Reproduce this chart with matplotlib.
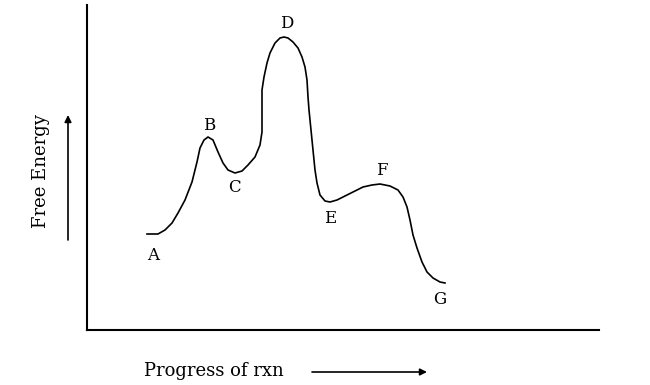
import matplotlib
matplotlib.use("Agg")
import matplotlib.pyplot as plt

# reaction coordinate curve (arbitrary units)
progress = [60, 71, 78, 85, 91, 98, 105, 110, 113, 117, 121, 126, 131, 136, 141,
            148, 155, 161, 168, 173, 175, 175, 177, 180, 183, 188, 193, 197, 201,
            206, 211, 215, 218, 220, 221, 222, 224, 226, 228, 230, 233, 238, 243,
            250, 256, 266, 276, 285, 293, 303, 311, 316, 320, 323, 326, 330, 335,
            340, 346, 353, 358]
energy = [96, 96, 100, 107, 117, 130, 148, 168, 182, 190, 193, 190, 178, 167, 160,
          157, 159, 165, 173, 185, 198, 240, 253, 267, 277, 287, 292, 293, 292,
          288, 282, 273, 263, 250, 233, 220, 200, 180, 160, 147, 135, 129, 128,
          130, 133, 138, 143, 145, 146, 144, 140, 133, 123, 110, 95, 82, 68,
          58, 52, 48, 47]

point_names = ["A", "B", "C", "D", "E", "F", "G"]
point_x = [66, 122, 147, 200, 243, 295, 353]
point_y = [75, 205, 143, 307, 112, 160, 30]

plt.rcParams['font.family'] = ['DejaVu Serif']

fig = plt.figure(figsize=(6.5, 3.85), dpi=100)
ax = fig.add_axes([87 / 650, 55 / 385, 512 / 650, 325 / 385])

ax.plot(progress, energy, color="black", linewidth=1.2)
for name, x, y in zip(point_names, point_x, point_y):
    ax.text(x, y, name, ha="center", va="center", fontsize=12)

ax.set_xlim(0, 512)
ax.set_ylim(0, 325)
ax.set_xticks([])
ax.set_yticks([])
ax.spines['top'].set_visible(False)
ax.spines['right'].set_visible(False)
ax.spines['left'].set_linewidth(1.5)
ax.spines['bottom'].set_linewidth(1.5)

# axis captions with arrows, outside the axes
fig.text(41 / 650, 1 - 171 / 385, "Free Energy", rotation=90,
         ha="center", va="center", fontsize=13)
ax.annotate("", xy=(68, 270), xytext=(68, 145), xycoords="figure pixels",
            textcoords="figure pixels",
            arrowprops=dict(arrowstyle="-|>", color="black", lw=1.2,
                            mutation_scale=10, shrinkA=0, shrinkB=0))
fig.text(214 / 650, 14 / 385, "Progress of rxn", ha="center", va="center",
         fontsize=13)
ax.annotate("", xy=(427, 13), xytext=(312, 13), xycoords="figure pixels",
            textcoords="figure pixels",
            arrowprops=dict(arrowstyle="-|>", color="black", lw=1.2,
                            mutation_scale=10, shrinkA=0, shrinkB=0))

fig.savefig("out.png", dpi=100)
